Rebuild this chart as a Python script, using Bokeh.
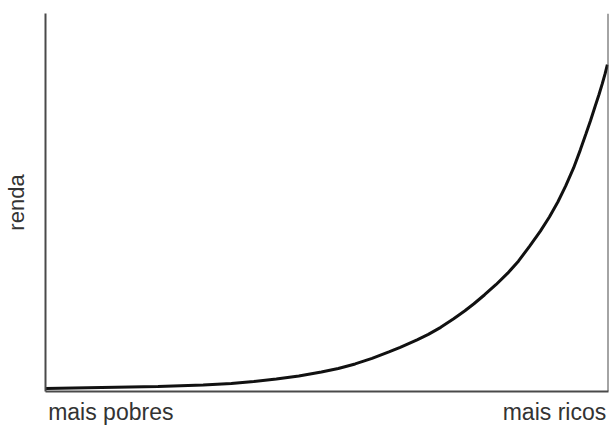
from bokeh.plotting import figure
from bokeh.models import Range1d, Span, FixedTicker
from bokeh.embed import file_html
from bokeh.resources import INLINE

# population percentile (poorest -> richest) and income (arbitrary units)
percentile = [0, 10, 20, 28, 33, 37, 41, 45, 49, 52, 55, 58, 61, 63, 66, 68,
              70.2, 72.5, 74.5, 76.1, 78, 80, 82.1, 84, 86, 87.9, 89.5, 91,
              92.4, 93.8, 95, 96, 96.8, 97.6, 98.3, 98.9, 99.4, 99.8]
income = [3, 4, 5, 6.5, 8, 10, 12.5, 15.5, 19.5, 23, 27.5, 33, 39.5, 44,
          51.5, 57, 64, 72.5, 80.5, 87.5, 96.5, 106.5, 118, 130, 145, 160,
          174, 189, 205, 223, 241, 257, 270, 284, 296, 307, 317, 326]

x_labels = {11.6: "mais pobres", 90.4: "mais ricos"}
y_label = "renda"

p = figure(width=612, height=430, output_backend="svg", toolbar_location=None,
           x_range=Range1d(0, 100), y_range=Range1d(0, 377),
           min_border_left=43, min_border_right=4, min_border_top=13,
           min_border_bottom=39)
p.grid.visible = False
p.outline_line_color = None
p.background_fill_color = "white"

axis_color = "#4a4a4a"
font = "Liberation Sans"

xa = p.xaxis[0]
xa.ticker = FixedTicker(ticks=list(x_labels.keys()))
xa.major_label_overrides = x_labels
xa.major_tick_line_color = None
xa.minor_tick_line_color = None
xa.major_tick_out = 0
xa.major_label_standoff = 7
xa.axis_line_color = axis_color
xa.axis_line_width = 2
xa.major_label_text_font = font
xa.major_label_text_font_size = "23px"
xa.major_label_text_color = "#333333"

ya = p.yaxis[0]
ya.ticker = FixedTicker(ticks=[])
ya.major_tick_line_color = None
ya.minor_tick_line_color = None
ya.major_tick_out = 0
ya.major_label_standoff = 0
ya.axis_label = y_label
ya.axis_label_standoff = 17
ya.axis_label_text_font = font
ya.axis_label_text_font_style = "normal"
ya.axis_label_text_font_size = "22px"
ya.axis_label_text_color = "#333333"
ya.axis_line_color = axis_color
ya.axis_line_width = 2

p.add_layout(Span(location=100, dimension="height", line_color=axis_color, line_width=2))

p.line(percentile, income, line_color="#111111", line_width=3)

open("out.html", "w").write(file_html(p, INLINE))
